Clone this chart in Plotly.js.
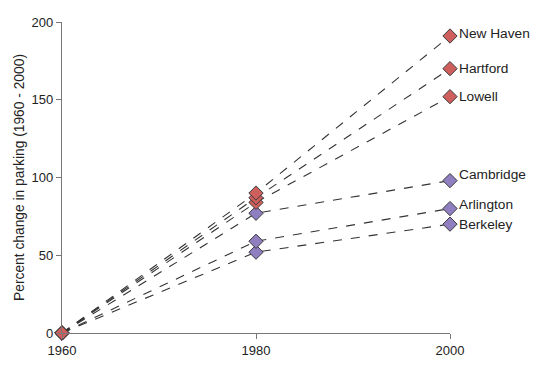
<!DOCTYPE html>
<html><head><meta charset="utf-8">
<script src="https://cdn.plot.ly/plotly-3.0.1.min.js"></script>
<style>html,body{margin:0;padding:0;background:#fff;}</style>
</head><body>
<div id="chart" style="width:557px;height:366px;"></div>
<script>
const years = [1960, 1980, 2000];
const cities = ["Berkeley", "Arlington", "Cambridge", "Lowell", "Hartford", "New Haven"];
const berkeley = [0, 52, 70];
const arlington = [0, 59, 80];
const cambridge = [0, 77, 98];
const lowell = [0, 84, 152];
const hartford = [0, 87, 170];
const newHaven = [0, 90, 191];
const seriesValues = [berkeley, arlington, cambridge, lowell, hartford, newHaven];
const groups = ["purple", "purple", "purple", "red", "red", "red"];
const labelShift = [0, 4, 6, 0, 0, 3];

const colors = {red: "#cf5f5d", purple: "#8f7fc0"};
const traces = cities.map((c, i) => ({
  x: years, y: seriesValues[i], type: "scatter", mode: "lines+markers", name: c,
  line: {color: "#333333", width: 1.1, dash: "dash"},
  marker: {symbol: "diamond", size: 11, color: colors[groups[i]], line: {color: "#3a3a3a", width: 1}},
  cliponaxis: false, hoverinfo: "none"
}));

const annotations = cities.map((c, i) => ({
  x: 2000, y: seriesValues[i][2], xref: "x", yref: "y", text: c, showarrow: false,
  xanchor: "left", yanchor: "middle", xshift: 7, yshift: labelShift[i],
  font: {family: "Liberation Sans, Arial, sans-serif", size: 13.7, color: "#222"}
}));

const layout = {
  width: 557, height: 366,
  margin: {l: 62, r: 107, t: 22, b: 33},
  paper_bgcolor: "#fff", plot_bgcolor: "#fff",
  showlegend: false,
  font: {family: "Liberation Sans, Arial, sans-serif", size: 12, color: "#222"},
  xaxis: {range: [1960, 2000], tickvals: years, ticktext: years.map(String),
    showgrid: false, zeroline: false, showline: true, linecolor: "#777", linewidth: 1.2,
    ticks: "outside", ticklen: 5, tickcolor: "#777", tickfont: {size: 13}},
  yaxis: {range: [0, 200], tickvals: [0, 50, 100, 150, 200],
    showgrid: false, zeroline: false, showline: true, linecolor: "#777", linewidth: 1.2,
    ticks: "outside", ticklen: 5, tickcolor: "#777", tickfont: {size: 13},
    title: {text: "Percent change in parking (1960 - 2000)", font: {size: 13.8}, standoff: 3}},
  annotations: annotations
};
Plotly.newPlot("chart", traces, layout, {displayModeBar: false, staticPlot: true});
</script>
</body></html>
